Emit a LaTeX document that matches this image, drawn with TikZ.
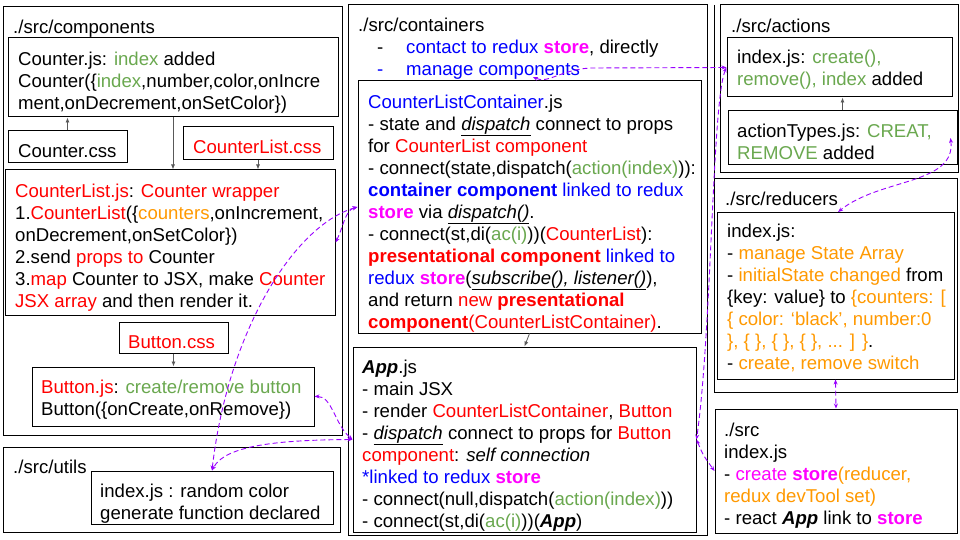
\documentclass[tikz,border=0pt]{standalone}
\usepackage{fontspec}
\setmainfont{Liberation Sans}
\usepackage{xcolor}
\usetikzlibrary{arrows.meta,positioning,fit}

\definecolor{dgreen}{HTML}{6AA84F}
\definecolor{dred}{HTML}{FF0000}
\definecolor{dblue}{HTML}{0000FF}
\definecolor{dpink}{HTML}{FF00FF}
\definecolor{dorange}{HTML}{FF9900}
\definecolor{dpurple}{HTML}{9900FF}
\definecolor{dgray}{HTML}{595959}

\newcommand{\cgreen}[1]{\textcolor{dgreen}{#1}}
\newcommand{\cred}[1]{\textcolor{dred}{#1}}
\newcommand{\cblue}[1]{\textcolor{dblue}{#1}}
\newcommand{\cpink}[1]{\textcolor{dpink}{#1}}
\newcommand{\corange}[1]{\textcolor{dorange}{#1}}
\newcommand{\store}{\textcolor{dpink}{\textbf{store}}}
\newcommand{\App}{\textbf{\textit{App}}}
\newcommand{\uit}[1]{\underline{\textit{#1}}}

\begin{document}
\begin{tikzpicture}[x=1pt,y=-1pt,
  box/.style={draw, line width=1pt, inner sep=0pt},
  txt/.style={anchor=north west, inner sep=0pt, align=left, font=\fontsize{18.6}{22}\selectfont},
  dep/.style={draw=dgray, line width=0.8pt, -{Latex[length=5pt,width=4pt]}},
  link/.style={draw=dpurple, line width=0.9pt, dash pattern=on 5pt off 3pt,
    {Stealth[length=5pt,width=4pt]}-{Stealth[length=5pt,width=4pt]}}]

% Canvas
\useasboundingbox[fill=white] (0,0) rectangle (960,540);

% ./src/components
\node[box, fit={(3,7) (342,435)}] (comp) {};
\node[txt] (comp-lbl) at (13,17.6) {\strut./src/components};
\node[box, fit={(8,38) (338,117)}] (counter) {};
\node[txt] (counter-txt) at (18,49.6) {\strut Counter.js: \cgreen{index} added\\
Counter(\{\cgreen{index},number,color,onIncre\\
ment,onDecrement,onSetColor\})};
\node[box, fit={(8,131) (127,163)}] (countercss) {};
\node[txt] (countercss-txt) at (18,141.6) {\strut Counter.css};
\node[box, fit={(183,127) (333,160)}] (listcss) {};
\node[txt] (listcss-txt) at (193,137.6) {\strut\cred{CounterList.css}};
\node[box, fit={(5,170) (335,315)}] (list) {};
\node[txt] (list-txt) at (15,181.6) {\strut\cred{CounterList.js}: \cred{Counter wrapper}\\
1.\cred{CounterList}(\{\corange{counters},onIncrement,\\
onDecrement,onSetColor\})\\
2.send \cred{props to} Counter\\
3.\cred{map} Counter to JSX, make \cred{Counter}\\
\cred{JSX array} and then render it.};
\node[box, fit={(119,322) (228,353)}] (btncss) {};
\node[txt] (btncss-txt) at (128,332.6) {\strut\cred{Button.css}};
\node[box, fit={(32,367) (314,426)}] (btn) {};
\node[txt] (btn-txt) at (41,377.6) {\strut\cred{Button.js}: \cgreen{create/remove button}\\
Button(\{onCreate,onRemove\})};

% ./src/utils
\node[box, fit={(3,447) (340,532)}] (utils) {};
\node[txt] (utils-lbl) at (13,457.6) {\strut./src/utils};
\node[box, fit={(91,471) (333,524)}] (utilsjs) {};
\node[txt] (utilsjs-txt) at (100,481.6) {\strut index.js : random color\\
generate function declared};

% ./src/containers
\node[box, fit={(348,5) (707,535)}] (cont) {};
\node[txt] (cont-lbl) at (358,15.6) {\strut./src/containers};
\node[txt] (cont-list) at (377,37.6) {\strut\makebox[29pt][l]{-}\cblue{contact to redux }\store, directly\\
\cblue{\makebox[29pt][l]{-}manage components}};
\node[box, fit={(358,81) (701,333)}] (clc) {};
\node[txt] (clc-txt) at (368,92.6) {\strut\cblue{CounterListContainer}.js\\
- state and \uit{dispatch} connect to props\\
for \cred{CounterList component}\\
- connect(state,dispatch(\cgreen{action(index)})):\\
\cblue{\textbf{container component} linked to redux}\\
\store{} via \uit{dispatch()}.\\
- connect(st,di(\cgreen{ac(i)}))(\cred{CounterList}):\\
\cred{\textbf{presentational component}} \cblue{linked to}\\
\cblue{redux} \store(\uit{subscribe(), listener()}),\\
and return \cred{new \textbf{presentational}}\\
\cred{\textbf{component}(CounterListContainer)}.};
\node[box, fit={(353,347) (696,532)}] (app) {};
\node[txt] (app-txt) at (362,357.6) {\strut\App.js\\
- main JSX\\
- render \cred{CounterListContainer}, \cred{Button}\\
- \uit{dispatch} connect to props for \cred{Button}\\
\cred{component}: \textit{self connection}\\
\cblue{*linked to redux} \store\\
- connect(null,dispatch(\cgreen{action(index)}))\\
- connect(st,di(\cgreen{ac(i)}))(\App)};

% ./src/actions
\draw[line width=1pt] (714,5) -- (714,179);
\node[box, fit={(720,5) (958,173)}] (act) {};
\node[txt] (act-lbl) at (731,16.6) {\strut./src/actions};
\node[box, fit={(727,38) (952,97)}] (actjs) {};
\node[txt] (actjs-txt) at (737,47.6) {\strut index.js: \cgreen{create(),}\\
\cgreen{remove(), index} added};
\node[box, fit={(728,111) (957,165)}] (types) {};
\node[txt] (types-txt) at (737,121.6) {\strut actionTypes.js: \cgreen{CREAT,}\\
\cgreen{REMOVE} added};

% ./src/reducers
\node[box, fit={(714,179) (957,392)}] (red) {};
\node[txt] (red-lbl) at (725,189.6) {\strut./src/reducers};
\node[box, fit={(717,212) (954,379)}] (redjs) {};
\node[txt] (redjs-txt) at (727,221.6) {\strut index.js:\\
- \corange{manage State Array}\\
- \corange{initialState changed} from\\
\{key: value\} to \corange{\{counters: [}\\
\corange{\{ color: ‘black’, number:0}\\
\corange{\}, \{ \}, \{ \}, \{ \}, ... ] \}}.\\
- \corange{create, remove switch}};

% ./src
\node[box, fit={(715,409) (957,533)}] (src) {};
\node[txt] (src-txt) at (724,420.6) {\strut./src\\
index.js\\
- \cpink{create \textbf{store}}\corange{(reducer,}\\
\corange{redux devTool set)}\\
- react \App{} link to \store};

% file dependencies
\draw[dep] (countercss.north) -- (countercss.north |- counter.south);
\draw[dep] (counter.south) -- (counter.south |- list.north);
\draw[dep] (listcss.south) -- (listcss.south |- list.north);
\draw[dep] (btncss.south) -- (btncss.south |- btn.north);
\draw[dep] (types.north) -- (types.north |- actjs.south);
\draw[dep] (clc.south) -- (app.north);

% redux links
\coordinate (mgmt) at (533,77);
\draw[link] (actjs.west) -- (590,68) .. controls (560,70) and (548,84) .. (mgmt);
\draw[link] (actjs.west) .. controls (712,100) and (712,330) .. (app.east);
\draw[link] (app.east) .. controls (703,455) .. (src.west);
\draw[link] ([xshift=-7pt]types.east) .. controls (956,185) and (880,178) .. (red-lbl.south east);
\draw[link] (redjs.south) -- (src.north);
\draw[link] (list.east) .. controls (343,228) and (345,210) .. (clc.west);
\draw[link] (utilsjs.north) .. controls (228,330) and (295,225) .. (clc.west);
\draw[link] (btn.east) .. controls (332,396) and (335,425) .. (app.west);
\draw[link] (app.west) .. controls (280,440) and (225,445) .. (utilsjs.north);

\end{tikzpicture}
\end{document}
